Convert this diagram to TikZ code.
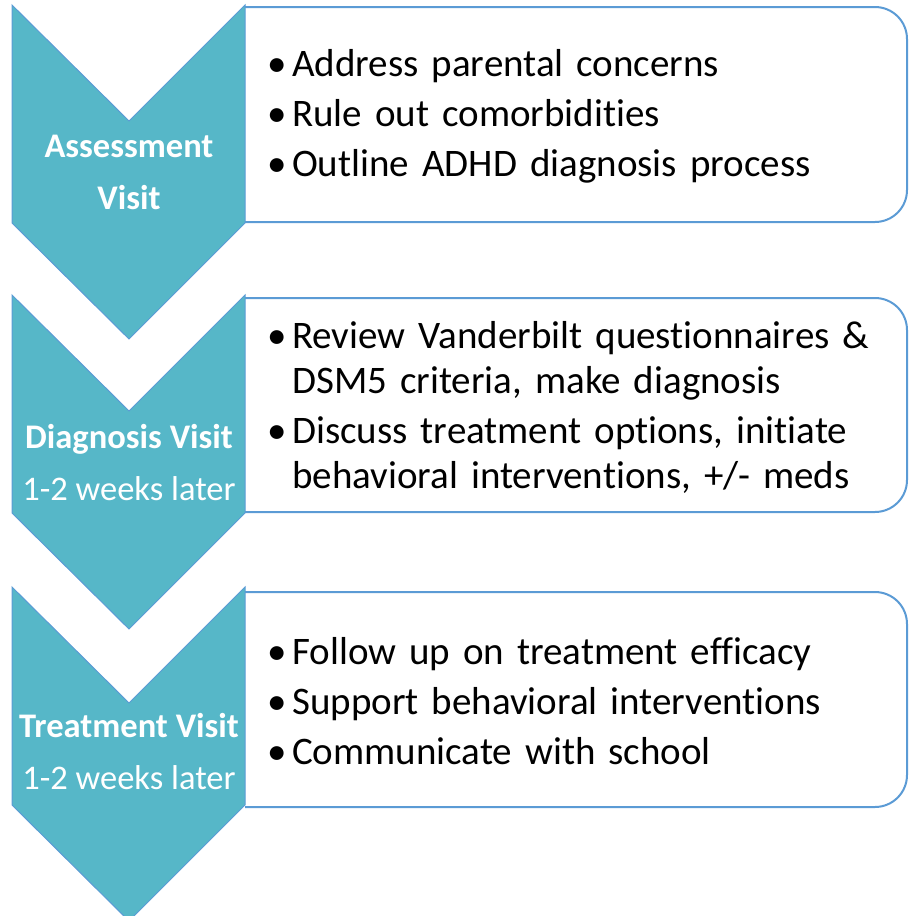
\documentclass[tikz,border=0pt]{standalone}
\usepackage{fontspec}
\setmainfont{Carlito}[RawFeature=-liga]
\hyphenpenalty=10000
\definecolor{chevfill}{HTML}{56B7C8}
\definecolor{edgeblue}{HTML}{5B9BD5}
\newcommand{\bitem}[1]{\par\hangindent=21pt\hangafter=1\noindent\makebox[21pt][l]{\hspace{-4pt}\textbullet}#1}
\tikzset{
  chev/.style={fill=chevfill, draw=edgeblue, line width=1pt, line join=miter},
  listbox/.style={draw=edgeblue, line width=2pt, fill=white, rounded corners=32pt},
  chevtext/.style={text=white, align=center, inner sep=0pt,
    font=\fontsize{34.5}{52}\selectfont},
  listtext/.style={anchor=west, inner sep=0pt, text width=640pt, align=left,
    font=\fontsize{39}{45}\selectfont\setlength{\parskip}{5pt}}
}
\begin{document}
\begin{tikzpicture}[x=1pt,y=-1pt]
\useasboundingbox (0,0) rectangle (908,916);
% boxes
\draw[listbox] (245,7) -- (907,7) -- (907,222) -- (245,222);
\draw[listbox] (245,298) -- (907,298) -- (907,512) -- (245,512);
\draw[listbox] (245,592) -- (907,592) -- (907,807) -- (245,807);
% chevrons
\begin{scope}
\clip (0,0) rectangle (908,916);
\foreach \t in {5,295,587}{
  \draw[chev] (12,\t) -- (129,\t+116) -- (245,\t) -- (245,\t+218)
    -- (129,\t+334) -- (12,\t+218) -- cycle;
}
\end{scope}
% chevron labels
\node[chevtext] (c1) at (129,172) {\textbf{Assessment}\\\textbf{Visit}};
\node[chevtext] (c2) at (129,463) {\textbf{Diagnosis Visit}\\1-2 weeks later};
\node[chevtext] (c3) at (129,752) {\textbf{Treatment Visit}\\1-2 weeks later};
% list texts
\node[listtext] (t1) at (271,105) {\bitem{Address parental concerns}\bitem{Rule out comorbidities}\bitem{Outline ADHD diagnosis process}\par};
\node[listtext] (t2) at (271,396) {\bitem{Review Vanderbilt questionnaires \&\newline DSM5 criteria, make diagnosis}\bitem{Discuss treatment options, initiate\newline behavioral interventions, +/- meds}\par};
\node[listtext] (t3) at (271,690) {\bitem{Follow up on treatment efficacy}\bitem{Support behavioral interventions}\bitem{Communicate with school}\par};
\end{tikzpicture}
\end{document}
